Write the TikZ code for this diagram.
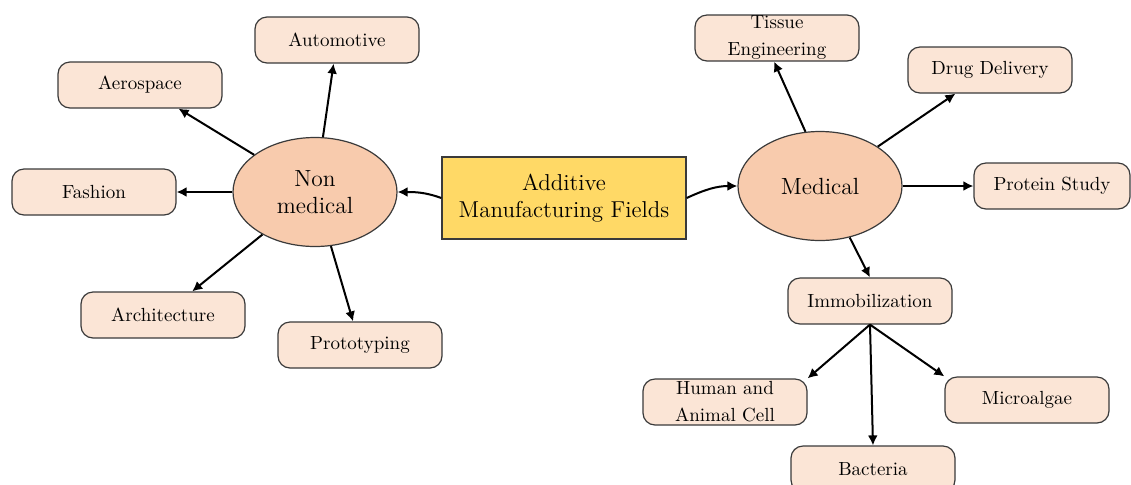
\documentclass[tikz,border=0pt]{standalone}
\usepackage{tikz}
\usetikzlibrary{shapes.geometric, arrows.meta}
\definecolor{boxfill}{HTML}{FBE5D6}
\definecolor{ellfill}{HTML}{F8CBAD}
\definecolor{mainfill}{HTML}{FFD966}
\definecolor{edge}{HTML}{3A3A3A}
\tikzstyle{fieldbox}=[shape=rectangle, rounded corners=6pt, minimum width=82pt, minimum height=23pt, inner sep=0, draw=edge, line width=0.6pt, fill=boxfill, align=center, font=\fontsize{9.5}{13.5}\selectfont]
\tikzstyle{areaell}=[shape=ellipse, minimum width=82pt, minimum height=54.5pt, inner sep=0, draw=edge, line width=0.6pt, fill=ellfill, align=center, font=\fontsize{11.7}{13.5}\selectfont]
\tikzstyle{mainbox}=[shape=rectangle, minimum width=122pt, minimum height=41pt, inner sep=0, draw=edge, line width=0.7pt, fill=mainfill, align=center, font=\fontsize{11.5}{13.5}\selectfont]
\tikzstyle{arr}=[line width=1pt, -{Latex[length=5pt,width=5pt]}]

\begin{document}
\begin{tikzpicture}[x=0.5pt, y=-0.5pt]
\useasboundingbox (0,0) rectangle (1131,484);
\clip (0,0) rectangle (1131,484);
\node[mainbox] (fields) at (564,198) {Additive\\Manufacturing Fields};
\node[areaell] (nonmed) at (315,192) {Non\\medical};
\node[areaell] (med) at (820,186) {Medical};
\foreach \nm/\x/\y/\txt in {auto/337/40/Automotive, aero/140/85/Aerospace, fash/94/192/Fashion, arch/163/315/Architecture, prot/360/345/Prototyping, tis/777/38/{Tissue\\Engineering}, drug/990/70/Drug Delivery, imm/870/301/Immobilization, hum/725/402/{Human and\\Animal Cell}, micro/1027/400/Microalgae, bac/873/469/Bacteria}
{
\node[fieldbox] (\nm) at (\x,\y) {\txt};
}
\node[fieldbox, minimum width=78pt] (prot2) at (1052,186) {Protein Study};
\draw[arr] (fields.west) to[out=160, in=0] (nonmed.east);
\draw[arr] (fields.east) to[out=25, in=180] (med.west);
\foreach \a/\b in {nonmed/aero, nonmed/auto, nonmed/fash, nonmed/arch, nonmed/prot, med/drug, med/prot2}
{
\draw[arr] (\a) -- (\b);
}
\draw[arr] (med.105) -- (tis.-97);
\draw[arr] (med.-60) -- (imm.north);
\draw[arr] (imm.south) -- (hum.north east);
\draw[arr] (imm.south) -- (bac.north);
\draw[arr] (imm.south) -- (micro.north west);
\end{tikzpicture}
\end{document}
